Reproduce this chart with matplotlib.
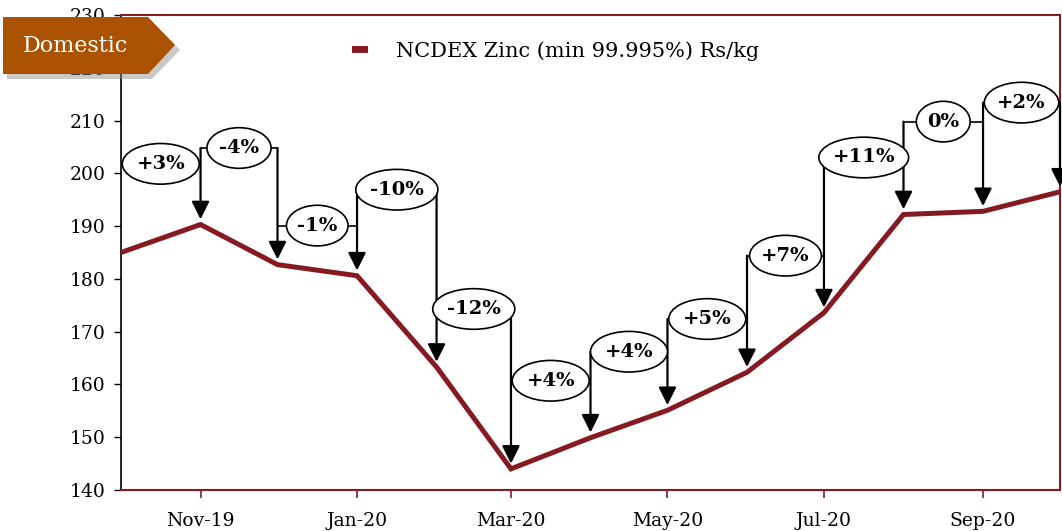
import matplotlib
matplotlib.use("Agg")
import matplotlib.pyplot as plt
import matplotlib.dates as mdates
from matplotlib.patches import Ellipse, Polygon
import datetime as dt

# ---- data ----
months = ["2019-10", "2019-11", "2019-12", "2020-01", "2020-02", "2020-03", "2020-04",
          "2020-05", "2020-06", "2020-07", "2020-08", "2020-09", "2020-10"]
prices = [185.0, 190.3, 182.7, 180.6, 163.3, 144.0, 149.9, 155.1, 162.3, 173.6, 192.2, 192.8, 196.5]
change_labels = ["+3%", "-4%", "-1%", "-10%", "-12%", "+4%", "+4%", "+5%", "+7%", "+11%", "0%", "+2%"]
label_levels = [201.8, 204.8, 190.1, 196.9, 174.3, 160.7, 166.2, 172.4, 184.4, 203.0, 209.8, 213.4]
label_widths = [30, 25, 24, 32, 32, 30, 30, 30, 28, 35, 21, 29]  # days
yticks = list(range(140, 231, 10))
xtick_dates = ["2019-11", "2020-01", "2020-03", "2020-05", "2020-07", "2020-09"]
series_name = "NCDEX Zinc (min 99.995%) Rs/kg"
badge_text = "Domestic"

LINE = "#861A22"
SERIF = "DejaVu Serif"

def to_date(s):
    y, m = s.split("-")
    return dt.date(int(y), int(m), 1)

dates = [to_date(m) for m in months]
xnum = [mdates.date2num(d) for d in dates]

fig = plt.figure(figsize=(10.62, 5.31), dpi=100)
ax = fig.add_axes([121/1062, 41/531, (1060-121)/1062, (490-15)/531])

ax.plot(dates, prices, color=LINE, lw=3.6, zorder=3, solid_joinstyle="miter",
        label=series_name)

ax.set_xlim(xnum[0], xnum[-1])
ax.set_ylim(140, 230)
ax.set_yticks(yticks)
ax.set_xticks([mdates.date2num(to_date(s)) for s in xtick_dates])
ax.xaxis.set_major_formatter(mdates.DateFormatter("%b-%y"))

for lab in ax.get_xticklabels() + ax.get_yticklabels():
    lab.set_fontfamily(SERIF)
    lab.set_fontsize(13.5)
ax.tick_params(axis="y", direction="out", length=5, color="black", width=1, pad=6)
ax.tick_params(axis="x", direction="out", length=6, color=LINE, width=1.2, pad=10)

for s in ["top", "right", "bottom"]:
    ax.spines[s].set_color(LINE)
    ax.spines[s].set_linewidth(1.5)
ax.spines["left"].set_color("black")
ax.spines["left"].set_linewidth(1.2)

# ---- change annotations ----
n = len(change_labels)
for i in range(n):
    x0, x1 = xnum[i], xnum[i + 1]
    cx = (x0 + x1) / 2
    cy = label_levels[i]
    ax.plot([x0, x1], [cy, cy], color="black", lw=1.2, zorder=4, clip_on=False,
            solid_capstyle="butt")
    e = Ellipse((cx, cy), label_widths[i], 7.7, facecolor="white", edgecolor="black",
                lw=1.2, zorder=5, clip_on=False)
    ax.add_patch(e)
    ax.text(cx, cy, change_labels[i], ha="center", va="center", fontsize=14,
            fontweight="bold", fontfamily=SERIF, zorder=6)

for j in range(1, len(xnum)):
    top = label_levels[j - 1]
    if j < n:
        top = max(top, label_levels[j])
    ax.annotate("", xy=(xnum[j], prices[j] + 1.0), xytext=(xnum[j], top),
                arrowprops=dict(arrowstyle="-|>,head_width=0.3,head_length=0.6",
                                color="black", lw=1.6, shrinkA=0, shrinkB=0,
                                mutation_scale=18),
                zorder=4, annotation_clip=False)

# ---- legend ----
leg = ax.legend(loc="upper left", bbox_to_anchor=(0.229, 0.985), frameon=False,
                handlelength=0.45, handletextpad=1.52,
                prop={"family": SERIF, "size": 15})
for h in leg.get_lines():
    h.set_linewidth(5)

# ---- badge ----
W, H = 1062, 531
def fc(px, py):
    return (px / W, 1 - py / H)

shadow = Polygon([fc(7, 22), fc(152, 22), fc(180, 50), fc(152, 79), fc(7, 79)],
                 closed=True, transform=fig.transFigure, facecolor="#888888",
                 alpha=0.45, edgecolor="none", zorder=10)
badge = Polygon([fc(3, 17), fc(148, 17), fc(175, 45), fc(148, 74), fc(3, 74)],
                closed=True, transform=fig.transFigure, facecolor="#AB5200",
                edgecolor="none", zorder=11)
fig.patches.extend([shadow, badge])
fig.text(75 / W, 1 - 46 / H, badge_text, ha="center", va="center", color="white",
         fontsize=16, fontfamily=SERIF, zorder=12)

fig.savefig("out.png", dpi=100)
